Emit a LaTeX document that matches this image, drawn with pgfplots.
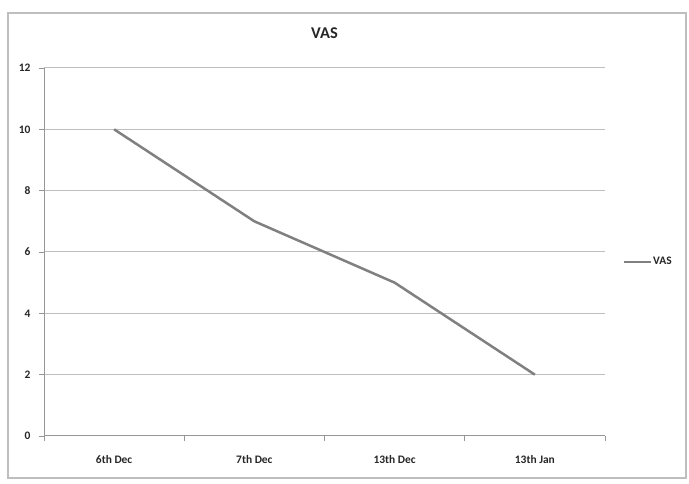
\documentclass[border=0pt]{standalone}
\usepackage{pgfplots}
\pgfplotsset{compat=1.18}
\usepackage{fontspec}
\setmainfont{Carlito}
\definecolor{lineg}{RGB}{128,128,128}
\definecolor{gridg}{RGB}{190,190,190}
\definecolor{axg}{RGB}{150,150,150}
\begin{document}
\begin{tikzpicture}[x=1bp,y=1bp]
\path[use as bounding box] (0,0) rectangle (689,484);
\draw[color=gridg,line width=1.2bp] (8,6) rectangle (686,471);
\begin{axis}[
  at={(44bp,48bp)}, anchor=south west,
  scale only axis, width=561bp, height=368bp,
  xmin=-0.5, xmax=3.5, ymin=0, ymax=12,
  ytick={0,2,...,12},
  xtick={-0.5,0.5,1.5,2.5,3.5}, xticklabels={},
  extra x ticks={0,1,2,3}, extra x tick labels={6th Dec,7th Dec,13th Dec,13th Jan},
  extra x tick style={major tick length=0pt, xticklabel style={anchor=base, yshift=-28bp}},
  axis x line*=bottom, axis y line*=left,
  x axis line style={axg,line width=1bp,-},
  y axis line style={axg,line width=1bp,-},
  tick style={axg, line width=0.8bp}, tick align=outside, major tick length=5bp,
  ymajorgrids, grid style={gridg,line width=1bp},
  tick label style={font=\bfseries\fontsize{11.5}{13}\selectfont, text=black!85},
  /pgf/number format/assume math mode=true,
  yticklabel style={xshift=-5bp},
  title={VAS}, title style={font=\bfseries\fontsize{16.5}{18}\selectfont, text=black!85, at={(0.5,1)}, anchor=base, yshift=24bp},
  legend style={at={(1.032,0.473)}, anchor=west, draw=none, fill=none, font=\bfseries\fontsize{11.5}{13}\selectfont, text=black!85, inner sep=0pt, nodes={inner sep=0.5pt}},
  legend image code/.code={\draw[#1] (0bp,0bp) -- (27bp,0bp);},
  legend cell align=left,
]
\addplot[color=lineg, line width=2.5bp, mark=none] coordinates {(0,10) (1,7) (2,5) (3,2)};
\addlegendentry{VAS}
\end{axis}
\end{tikzpicture}
\end{document}
